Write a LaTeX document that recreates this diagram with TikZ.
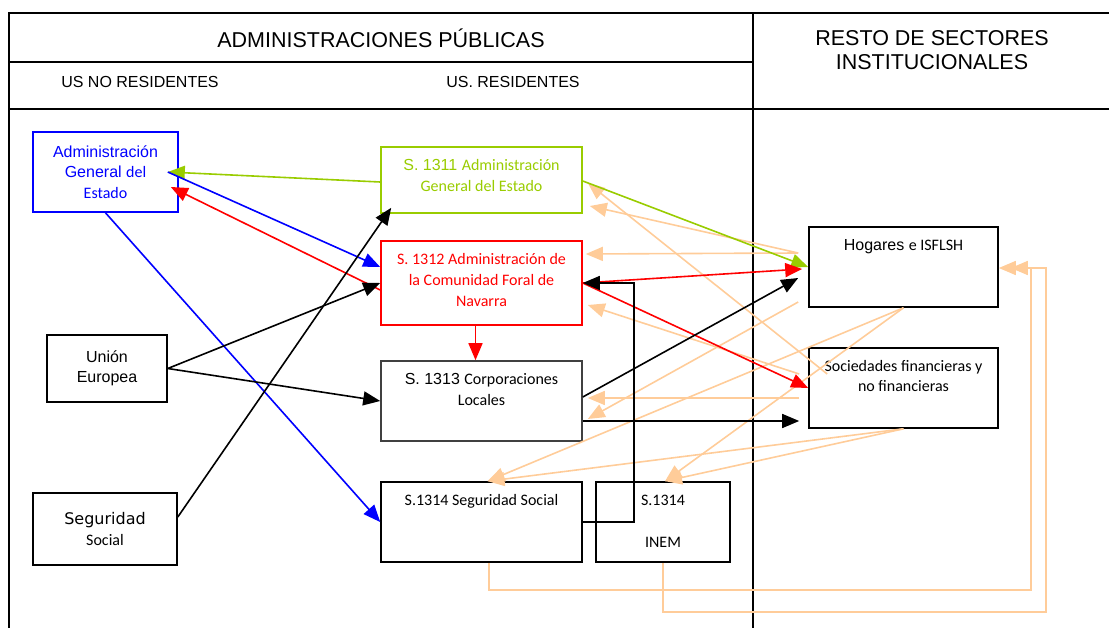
\documentclass[tikz,border=0pt]{standalone}
\usepackage{fontspec}
\setmainfont{Liberation Sans}
\newfontfamily\calib{Carlito}
\newfontfamily\dejav{DejaVu Sans}
\usetikzlibrary{arrows.meta}
\definecolor{agegreen}{RGB}{153,204,0}
\definecolor{peach}{RGB}{255,204,153}

\begin{document}
\begin{tikzpicture}[
    x=1pt, y=-1pt,
    font=\fontsize{16}{20.5}\selectfont,
    box/.style={draw, line width=1.6pt, minimum width=201, minimum height=80,
                align=center, inner sep=2pt},
    toptext/.style={anchor=north, align=center, yshift=-10pt},
    link/.style={line width=1.6pt, -{Triangle[length=17pt, width=14pt]}},
    frameline/.style={line width=1.6pt},
]
\useasboundingbox (0,0) rectangle (1109,628);

% Frame
\draw[frameline] (1109,13) -- (9,13) -- (9,628);
\draw[frameline] (753,13) -- (753,628);
\draw[frameline] (9,62) -- (753,62);
\draw[frameline] (9,109) -- (1109,109);

% Headers
\node[font=\fontsize{21.5}{24}\selectfont] (tadm) at (381,38) {ADMINISTRACIONES PÚBLICAS};
\node (tnores) at (140,82) {US NO RESIDENTES};
\node (tres) at (513,82) {US. RESIDENTES};
\node[align=center, font=\fontsize{21.5}{24}\selectfont] (tresto) at (932,50)
      {RESTO DE SECTORES\\INSTITUCIONALES};

% Non-resident units
\node[box, draw=blue, text=blue, minimum width=145] (age) at (105.5,172)
      {Administración\\General {\calib del}\\{\calib Estado}};
\node[box, minimum width=120, minimum height=67] (ue) at (107,368.5) {Unión\\Europea};
\node[box, minimum width=144, minimum height=72] (ssoc) at (105,529)
      {{\dejav Seguridad}\\{\calib Social}};

% Resident units
\node[box, draw=agegreen, minimum height=66,
      label={[toptext, text=agegreen]north:{S. 1311 {\calib Administración}\\{\calib General del Estado}}}]
      (s1311) at (481.5,180) {};
\node[box, draw=red, minimum height=84,
      label={[toptext, text=red, font=\calib\fontsize{16}{21}\selectfont]north:{S. 1312 Administración de\\la Comunidad Foral de\\Navarra}}]
      (s1312) at (481.5,283) {};
\node[box, draw=black!75, label={[toptext]north:{S. 1313 {\calib Corporaciones}\\{\calib Locales}}}]
      (s1313) at (481.5,401) {};
\node[box, label={[toptext, font=\calib\fontsize{16}{20}\selectfont]north:{S.1314 Seguridad Social}}]
      (s1314) at (481.5,522) {};
\node[box, minimum width=134, label={[toptext, font=\calib\fontsize{16}{20}\selectfont]north:{S.1314\\[22pt]INEM}}]
      (inem) at (663,522) {};

% Other sectors
\node[box, minimum width=189, label={[toptext]north:{Hogares {\calib e ISFLSH}}}]
      (hog) at (903.5,267) {};
\node[box, minimum width=189, label={[toptext, font=\calib\fontsize{16}{20}\selectfont]north:{Sociedades financieras y\\no financieras}}]
      (soc) at (903.5,388) {};

% Flows from other sectors
\draw[link, peach] ([xshift=-10pt, yshift=14pt]hog.west) -- ([xshift=3pt, yshift=29pt]s1312.east);
\draw[link, peach] ([xshift=-10pt, yshift=14pt]hog.west) -- ([xshift=7pt, yshift=-26pt]s1311.east);
\draw[link, peach] ([xshift=19pt, yshift=14pt]soc.west) -- ([xshift=5pt, yshift=-3pt]s1311.east);
\draw[link, peach] ([xshift=-9pt, yshift=14pt]soc.west) -- ([xshift=5pt, yshift=-22pt]s1312.east);
\draw[link, peach] ([xshift=-9pt, yshift=-10pt]soc.west) -- ([xshift=5pt, yshift=3pt]s1313.east);
\draw[link, peach] ([xshift=-10pt, yshift=-35pt]hog.west) -- ([xshift=5pt, yshift=-18pt]s1313.east);
\draw[link, peach] (hog.south) -- ([xshift=6pt]s1314.north);
\draw[link, peach] (hog.south) -- ([xshift=2pt]inem.north);
\draw[link, peach] (soc.south) -- ([xshift=6pt]s1314.north);
\draw[link, peach] (soc.south) -- ([xshift=2pt]inem.north);
\draw[link, peach] ([xshift=7.5pt]s1314.south) -- ++(0,27) -- ++(542,0) |- ([xshift=12pt, yshift=-1pt]hog.east);
\draw[link, peach] (inem.south) -- ++(0,49) -- ++(383,0) |- ([yshift=-1pt]hog.east);

% Flows between administrations
\draw[link, agegreen] ([yshift=-2pt]s1311.west) -- ([xshift=-11pt]age.east);
\draw[link, blue] ([xshift=-11pt]age.east) -- ([yshift=16pt]s1312.west);
\draw[link, red] ([yshift=-7pt]s1312.west) -- ([xshift=-8pt, yshift=-15pt]age.east);
\draw[link, blue] (age.south) -- (s1314.west);
\draw[link] (ue.east) -- (s1312.west);
\draw[link] (ue.east) -- (s1313.west);
\draw[link] ([yshift=12pt]ssoc.east) -- ([xshift=11pt, yshift=6pt]s1311.south west);
\draw[link, red] ([xshift=-6pt]s1312.south) -- ([xshift=-6pt]s1313.north);

% Flows to other sectors
\draw[link, agegreen] ([yshift=-1pt]s1311.east) -- (hog.west);
\draw[link, red] (s1312.east) -- ([xshift=-6pt, yshift=-2pt]hog.west);
\draw[link, red] (s1312.east) -- (soc.west);
\draw[link] ([yshift=4pt]s1313.east) -- ([xshift=-10pt, yshift=-11pt]hog.west);
\draw[link] ([yshift=-20pt]s1313.east) -- ([xshift=-9pt, yshift=-33pt]soc.west);
\draw[link] (s1314.east) -- ++(51,0) |- (s1312.east);

\end{tikzpicture}
\end{document}
